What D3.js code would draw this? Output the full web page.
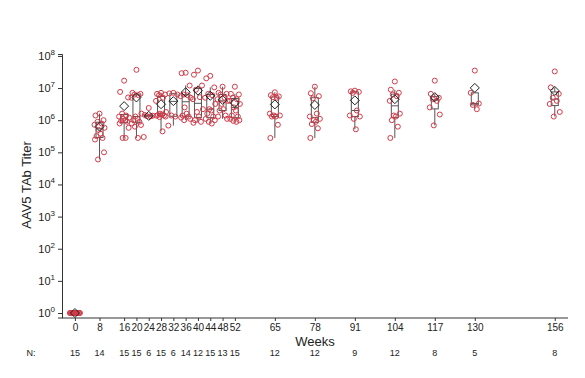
<!DOCTYPE html>
<html>
<head>
<meta charset="utf-8">
<script src="https://cdn.jsdelivr.net/npm/d3@7"></script>
<style>
  body { margin: 0; background: #fff; }
  text { font-family: "Liberation Sans", Arial, sans-serif; fill: #222; }
</style>
</head>
<body>
<div id="chart"></div>
<script>
// weeks on study
const weeks = [0, 8, 16, 20, 24, 28, 32, 36, 40, 44, 48, 52, 65, 78, 91, 104, 117, 130, 156]

// individual AAV5 TAb titers per visit
const wk0   = [1, 1, 1, 1, 1, 1, 1, 1, 1, 1, 1, 1, 1, 1, 1]
const wk8   = [1.6e6, 1.4e6, 1.0e6, 8.9e5, 7.9e5, 7.2e5, 5.8e5, 5.0e5, 3.8e5, 3.2e5, 2.8e5, 2.5e5, 1.0e5, 6.0e4]
const wk16  = [1.7e7, 7.6e6, 5.1e6, 1.6e6, 1.4e6, 1.3e6, 1.2e6, 1.1e6, 1.0e6, 9.5e5, 8.9e5, 7.9e5, 5.8e5, 2.8e5, 2.8e5]
const wk20  = [3.7e7, 7.1e6, 6.6e6, 6.3e6, 6.0e6, 5.0e6, 1.6e6, 1.3e6, 1.1e6, 1.0e6, 8.9e5, 7.9e5, 7.1e5, 6.3e5, 2.8e5]
const wk24  = [2.4e6, 1.45e6, 1.38e6, 1.35e6, 1.32e6, 3.0e5]
const wk28  = [7.1e6, 6.6e6, 6.3e6, 6.0e6, 5.0e6, 4.0e6, 1.8e6, 1.6e6, 1.5e6, 1.45e6, 1.4e6, 1.38e6, 1.3e6, 1.25e6, 4.5e5]
const wk32  = [7.1e6, 6.8e6, 6.3e6, 1.4e6, 1.3e6, 6.8e5]
const wk36  = [3.0e7, 2.9e7, 1.2e7, 6.3e6, 6.0e6, 5.6e6, 5.0e6, 2.5e6, 1.6e6, 1.4e6, 1.3e6, 1.2e6, 1.1e6, 1.0e6]
const wk40  = [3.5e7, 2.6e7, 1.2e7, 8.9e6, 5.2e6, 4.5e6, 2.2e6, 1.8e6, 1.3e6, 1.0e6, 8.9e5, 8.3e5]
const wk44  = [2.4e7, 2.0e7, 1.05e7, 6.6e6, 6.0e6, 5.0e6, 3.2e6, 2.2e6, 2.0e6, 1.6e6, 1.3e6, 1.1e6, 1.0e6, 8.9e5, 7.9e5]
const wk48  = [1.1e7, 7.1e6, 6.6e6, 6.3e6, 5.0e6, 4.5e6, 4.0e6, 3.2e6, 2.2e6, 2.0e6, 1.4e6, 1.3e6, 1.1e6]
const wk52  = [1.1e7, 6.6e6, 6.3e6, 5.0e6, 4.5e6, 4.0e6, 3.2e6, 2.5e6, 2.0e6, 1.4e6, 1.3e6, 1.1e6, 1.0e6, 9.5e5, 8.9e5]
const wk65  = [7.4e6, 6.0e6, 5.5e6, 5.2e6, 5.0e6, 1.6e6, 1.4e6, 1.4e6, 1.3e6, 1.3e6, 7.2e5, 2.8e5]
const wk78  = [1.1e7, 6.9e6, 5.6e6, 4.8e6, 1.6e6, 1.3e6, 1.1e6, 1.0e6, 8.9e5, 7.6e5, 5.6e5, 2.8e5]
const wk91  = [8.3e6, 7.9e6, 7.6e6, 7.1e6, 2.0e6, 1.4e6, 1.3e6, 1.1e6, 5.2e5]
const wk104 = [1.6e7, 8.9e6, 7.1e6, 6.3e6, 5.6e6, 4.0e6, 1.6e6, 1.4e6, 1.3e6, 1.0e6, 6.3e5, 2.8e5]
const wk117 = [1.7e7, 6.6e6, 5.0e6, 4.5e6, 4.0e6, 2.5e6, 1.5e6, 6.9e5]
const wk130 = [3.5e7, 7.1e6, 3.3e6, 3.0e6, 2.2e6]
const wk156 = [3.3e7, 1.05e7, 6.6e6, 5.0e6, 4.0e6, 3.2e6, 1.8e6, 1.3e6]

const titers = [wk0, wk8, wk16, wk20, wk24, wk28, wk32, wk36, wk40, wk44, wk48, wk52,
                wk65, wk78, wk91, wk104, wk117, wk130, wk156]

// y tick exponents
const yExponents = [0, 1, 2, 3, 4, 5, 6, 7, 8]

const width = 585, height = 378
const red = '#d23a48', boxColor = '#555'

const svg = d3.select('#chart').append('svg')
    .attr('width', width)
    .attr('height', height)

const x = d3.scaleLinear().domain([-4.2, 160.3]).range([62, 568])
const y = d3.scaleLog().domain([Math.pow(10, -0.14), Math.pow(10, 8.06)]).range([317.5, 54])

// small fixed horizontal spread so the circles don't sit on top of each other
const spread = [0, -4, 4, -2, 2, -5, 5, -1, 1, -3, 3, -4.5, 4.5, -1.5, 1.5]

const plot = svg.append('g')

weeks.forEach((wk, i) => {
    const vals = titers[i].slice().sort(d3.ascending)
    const cx = x(wk)
    const q1 = d3.quantile(vals, 0.25)
    const med = d3.quantile(vals, 0.5)
    const q3 = d3.quantile(vals, 0.75)
    const iqr = q3 - q1
    const lo = d3.min(vals.filter(v => v >= q1 - 1.5 * iqr))
    const hi = d3.max(vals.filter(v => v <= q3 + 1.5 * iqr))
    const mean = d3.mean(vals)

    const g = plot.append('g')
    // whiskers
    g.append('line')
        .attr('x1', cx).attr('x2', cx)
        .attr('y1', y(hi)).attr('y2', y(q3))
        .attr('stroke', boxColor).attr('stroke-width', 1)
    g.append('line')
        .attr('x1', cx).attr('x2', cx)
        .attr('y1', y(q1)).attr('y2', y(lo))
        .attr('stroke', boxColor).attr('stroke-width', 1)
    // box
    g.append('rect')
        .attr('x', cx - 3.5)
        .attr('y', y(q3))
        .attr('width', 7)
        .attr('height', Math.max(0.5, y(q1) - y(q3)))
        .attr('fill', 'none')
        .attr('stroke', boxColor)
        .attr('stroke-width', 1)
    g.append('line')
        .attr('x1', cx - 3.5).attr('x2', cx + 3.5)
        .attr('y1', y(med)).attr('y2', y(med))
        .attr('stroke', boxColor).attr('stroke-width', 1)

    // individual titers
    titers[i].slice().sort(d3.descending).forEach((v, j) => {
        g.append('circle')
            .attr('cx', cx + spread[j % spread.length])
            .attr('cy', y(v))
            .attr('r', 2.5)
            .attr('fill', 'none')
            .attr('stroke', red)
            .attr('stroke-width', 1)
    })

    // mean diamond
    const my = y(mean)
    g.append('path')
        .attr('d', `M${cx},${my - 4.5}L${cx + 4.5},${my}L${cx},${my + 4.5}L${cx - 4.5},${my}Z`)
        .attr('fill', 'none')
        .attr('stroke', '#222')
        .attr('stroke-width', 1)
})

// axes
const yAxis = svg.append('g')
    .attr('transform', 'translate(62,0)')
    .call(d3.axisLeft(y)
        .tickValues(yExponents.map(e => Math.pow(10, e)))
        .tickSize(4)
        .tickFormat(''))
yAxis.select('.domain').attr('stroke', '#333')
yAxis.selectAll('.tick line').attr('stroke', '#333')

const supDigits = '⁰¹²³⁴⁵⁶⁷⁸⁹'
svg.append('g').selectAll('text')
    .data(yExponents)
    .join('text')
    .attr('x', 55)
    .attr('y', e => y(Math.pow(10, e)) + 4)
    .attr('text-anchor', 'end')
    .style('font-size', '11px')
    .each(function (e) {
        const t = d3.select(this)
        t.append('tspan').text('10')
        t.append('tspan')
            .attr('dy', -5)
            .style('font-size', '8px')
            .text(e)
    })

const xAxis = svg.append('g')
    .attr('transform', 'translate(0,318)')
    .call(d3.axisBottom(x)
        .tickValues(weeks)
        .tickSize(3)
        .tickPadding(3)
        .tickFormat(d => d))
xAxis.select('.domain').attr('stroke', '#333').attr('d', 'M62,0H568')
xAxis.selectAll('.tick line').attr('stroke', '#333')
xAxis.selectAll('.tick text')
    .style('font-size', '10px')
    .style('font-family', '"Liberation Sans", Arial, sans-serif')
    .attr('fill', '#222')

// axis titles
svg.append('text')
    .attr('transform', 'translate(31,185) rotate(-90)')
    .attr('text-anchor', 'middle')
    .style('font-size', '13px')
    .text('AAV5 TAb Titer')

svg.append('text')
    .attr('x', 315)
    .attr('y', 346)
    .attr('text-anchor', 'middle')
    .style('font-size', '13px')
    .text('Weeks')

// N row
svg.append('text')
    .attr('x', 31)
    .attr('y', 356)
    .attr('text-anchor', 'middle')
    .style('font-size', '9px')
    .text('N:')

svg.append('g').selectAll('text')
    .data(weeks)
    .join('text')
    .attr('x', d => x(d))
    .attr('y', 356)
    .attr('text-anchor', 'middle')
    .style('font-size', '9px')
    .text((d, i) => titers[i].length)
</script>
</body>
</html>
